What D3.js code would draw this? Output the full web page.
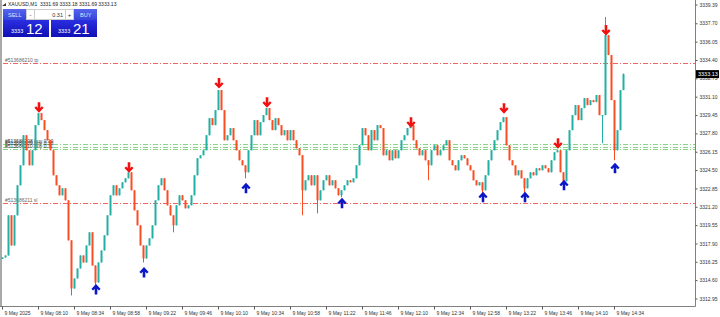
<!DOCTYPE html>
<html>
<head>
<meta charset="utf-8">
<script src="https://cdn.jsdelivr.net/npm/d3@7"></script>
<style>
body { margin: 0; background: #fff; }
svg { display: block; font-family: "Liberation Sans", Arial, sans-serif; }
</style>
</head>
<body>
<div id="chart"></div>
<script>
// XAUUSD closes, one candle per 2 minutes from 07:46
var closes = [
  3316.64, 3316.82, 3320.43, 3317.72, 3320.43, 3323.13, 3324.93, 3327.63, 3326.28, 3324.93,
  3326.28, 3328.54, 3329.62, 3328.99, 3328.09, 3327.18, 3326.28, 3324.03, 3323.13, 3322.23,
  3322.86, 3321.78, 3318.18, 3313.85, 3314.75, 3315.65, 3316.82, 3316.19, 3317.72, 3318.90,
  3315.92, 3314.39, 3316.19, 3317.27, 3318.63, 3320.43, 3322.23, 3323.13, 3322.23, 3322.86,
  3323.40, 3323.76, 3324.30, 3322.68, 3320.88, 3319.53, 3317.72, 3316.55, 3317.72, 3318.36,
  3319.53, 3321.78, 3323.13, 3323.76, 3322.68, 3321.33, 3320.43, 3319.53, 3321.33, 3322.23,
  3321.78, 3321.06, 3321.33, 3322.23, 3324.03, 3325.56, 3325.83, 3326.28, 3327.63, 3329.17,
  3328.54, 3329.89, 3331.69, 3329.89, 3327.18, 3327.63, 3328.27, 3327.18, 3326.28, 3325.38,
  3324.93, 3324.30, 3326.28, 3327.63, 3328.99, 3327.63, 3328.81, 3329.44, 3330.07, 3328.99,
  3328.09, 3329.17, 3328.54, 3327.63, 3328.09, 3327.18, 3328.09, 3327.18, 3326.46, 3325.83,
  3322.68, 3323.58, 3324.03, 3323.13, 3324.03, 3321.78, 3322.68, 3323.58, 3324.03, 3323.13,
  3323.58, 3322.86, 3322.23, 3322.68, 3323.13, 3323.58, 3323.40, 3323.76, 3324.93, 3326.73,
  3328.27, 3327.63, 3326.28, 3328.09, 3327.18, 3328.54, 3328.27, 3325.83, 3326.28, 3325.38,
  3326.28, 3325.56, 3326.28, 3327.18, 3327.63, 3328.27, 3328.54, 3327.18, 3326.46, 3325.83,
  3326.28, 3325.38, 3324.93, 3326.28, 3326.73, 3325.83, 3326.28, 3326.73, 3327.18, 3325.38,
  3324.93, 3324.48, 3325.38, 3325.83, 3325.56, 3324.93, 3324.48, 3323.58, 3323.13, 3323.40,
  3322.68, 3324.03, 3325.38, 3326.28, 3327.18, 3328.09, 3328.81, 3329.26, 3326.73, 3325.38,
  3324.93, 3324.03, 3324.48, 3323.76, 3322.86, 3323.76, 3324.30, 3324.03, 3324.66, 3324.48,
  3324.93, 3324.66, 3324.30, 3325.38, 3326.10, 3326.28, 3324.30, 3323.49, 3326.28, 3328.09,
  3329.44, 3330.34, 3328.99, 3330.07, 3330.97, 3330.34, 3330.79, 3330.61, 3331.24, 3329.44,
  3329.44, 3336.64, 3334.84, 3330.79, 3326.28, 3328.09, 3331.69, 3333.13
];
var firstOpen = 3316.50;

// wick extremes that stick out of the bodies: [candle index, price]
var highWicks = [[201, 3338.27], [207, 3333.18]];
var lowWicks = [[23, 3313.22], [31, 3314.12], [47, 3316.19], [57, 3318.90], [81, 3323.76],
  [100, 3320.43], [105, 3320.61], [113, 3322.05], [142, 3323.58], [160, 3322.41],
  [174, 3322.41], [187, 3323.22], [200, 3326.91], [204, 3325.38]];

// fractal arrows: [candle index, price]
var downArrows = [[12, 3330.16], [42, 3324.75], [72, 3332.32], [88, 3330.61],
  [136, 3328.81], [167, 3330.07], [185, 3326.91], [201, 3337.09]];
var upArrows = [[31, 3313.76], [47, 3315.29], [81, 3322.86], [113, 3321.51],
  [160, 3322.05], [174, 3322.05], [187, 3323.13], [204, 3324.66]];

var priceTicks = [3339.39, 3337.70, 3336.05, 3334.40, 3332.75, 3331.10, 3329.45, 3327.80,
  3326.15, 3324.50, 3322.85, 3321.20, 3319.55, 3317.90, 3316.25, 3314.60, 3312.95];
var timeTicks = ["07:46", "08:10", "08:34", "08:58", "09:22", "09:46", "10:10", "10:34", "10:58",
  "11:22", "11:46", "12:10", "12:34", "12:58", "13:22", "13:46", "14:10", "14:34"];
var timeLabels = ["9 May 2025", "9 May 08:10", "9 May 08:34", "9 May 08:58", "9 May 09:22",
  "9 May 09:46", "9 May 10:10", "9 May 10:34", "9 May 10:58", "9 May 11:22", "9 May 11:46",
  "9 May 12:10", "9 May 12:34", "9 May 12:58", "9 May 13:22", "9 May 13:46", "9 May 14:10",
  "9 May 14:34"];

var tpLine = { price: 3334.12, label: "#513686210 tp" };
var slLine = { price: 3321.51, label: "#513686211 sl" };
var openLines = [
  { price: 3326.80, label: "#513686208 buy 0.10" },
  { price: 3326.58, label: "#513686209 buy 0.10" },
  { price: 3326.37, label: "#513686210 buy 0.11" }
];
var currentPrice = 3333.13;
var header = "XAUUSD,M1  3331.69 3333.18 3331.69 3333.13";
var lots = "0.31";
var bid = ["3333", "12"];
var ask = ["3333", "21"];

var W = 720, H = 317;
var upColor = "#22b0a4", downColor = "#fb4d22";

var svg = d3.select("#chart").append("svg")
    .attr("width", W)
    .attr("height", H);

var parseTime = d3.timeParse("%Y-%m-%d %H:%M");
var t0 = parseTime("2025-05-09 07:46");

var x = d3.scaleTime()
    .domain([t0, parseTime("2025-05-09 14:34")])
    .range([2, 614]);

var y = d3.scaleLinear()
    .domain([3312.95, 3339.39])
    .range([298.5, 4.5]);

var candles = closes.map(function (c, i) {
    var o = i === 0 ? firstOpen : closes[i - 1];
    return { t: d3.timeMinute.offset(t0, 2 * i), o: o, c: c, h: Math.max(o, c), l: Math.min(o, c) };
});
highWicks.forEach(function (w) { candles[w[0]].h = w[1]; });
lowWicks.forEach(function (w) { candles[w[0]].l = w[1]; });

// left strip
svg.append("rect").attr("x", 0).attr("y", 0).attr("width", 2).attr("height", 306).attr("fill", "#a9a9a9");

// order lines
function hline(price, color, label, labelColor) {
    svg.append("line")
        .attr("x1", 3).attr("x2", 695)
        .attr("y1", Math.round(y(price)) + 0.5).attr("y2", Math.round(y(price)) + 0.5)
        .attr("stroke", color)
        .attr("stroke-width", 1)
        .attr("shape-rendering", "crispEdges")
        .attr("stroke-dasharray", "5,2,1,2");
    svg.append("text")
        .attr("x", 5).attr("y", y(price) - 1.5)
        .attr("font-size", 5)
        .attr("fill", labelColor)
        .text(label);
}
hline(tpLine.price, "#f26464", tpLine.label, "#666");
hline(slLine.price, "#f26464", slLine.label, "#666");
openLines.forEach(function (d) { hline(d.price, "#86d686", d.label, "#333"); });

// candles
svg.append("g").selectAll("line")
    .data(candles)
    .enter().append("line")
    .attr("x1", function (d) { return Math.round(x(d.t)) + 0.5; })
    .attr("x2", function (d) { return Math.round(x(d.t)) + 0.5; })
    .attr("y1", function (d) { return y(d.h); })
    .attr("y2", function (d) { return y(d.l); })
    .attr("stroke", function (d) { return d.c >= d.o ? upColor : downColor; })
    .attr("stroke-width", 1);

svg.append("g").selectAll("rect")
    .data(candles)
    .enter().append("rect")
    .attr("x", function (d) { return Math.round(x(d.t)) - 0.5; })
    .attr("y", function (d) { return y(Math.max(d.o, d.c)); })
    .attr("width", 2)
    .attr("height", function (d) { return Math.max(1, y(Math.min(d.o, d.c)) - y(Math.max(d.o, d.c))); })
    .attr("fill", function (d) { return d.c >= d.o ? upColor : downColor; });

// fractal arrows
var arrowPath = "M0,-5.5L4.6,-0.6L2.9,0.9L1.3,-0.8L1.3,5L-1.3,5L-1.3,-0.8L-2.9,0.9L-4.6,-0.6Z";
svg.append("g").selectAll("path")
    .data(upArrows)
    .enter().append("path")
    .attr("d", arrowPath)
    .attr("transform", function (d) { return "translate(" + (x(candles[d[0]].t) + 1) + "," + y(d[1]) + ")"; })
    .attr("fill", "#0b16c6");
svg.append("g").selectAll("path")
    .data(downArrows)
    .enter().append("path")
    .attr("d", arrowPath)
    .attr("transform", function (d) { return "translate(" + (x(candles[d[0]].t) + 1) + "," + y(d[1]) + ") scale(1,-1)"; })
    .attr("fill", "#f21010");

// frame
svg.append("line").attr("x1", 695.5).attr("x2", 695.5).attr("y1", 0).attr("y2", 306.5).attr("stroke", "#808080");
svg.append("line").attr("x1", 0).attr("x2", 695.5).attr("y1", 306.5).attr("y2", 306.5).attr("stroke", "#808080");

// price axis
var yAxis = svg.append("g")
    .attr("transform", "translate(695.5,0)")
    .call(d3.axisRight(y).tickValues(priceTicks).tickFormat(d3.format(".2f")).tickSize(2).tickPadding(2));
yAxis.select(".domain").remove();
yAxis.selectAll("text").attr("font-size", 5).attr("fill", "#333").attr("font-family", "Liberation Sans, Arial, sans-serif");
yAxis.selectAll("line").attr("stroke", "#555");

// time axis
var xAxis = svg.append("g")
    .attr("transform", "translate(0,306.5)")
    .call(d3.axisBottom(x)
        .tickValues(timeTicks.map(function (s) { return parseTime("2025-05-09 " + s); }))
        .tickFormat(function (d, i) { return timeLabels[i]; })
        .tickSize(3).tickPadding(2));
xAxis.select(".domain").remove();
xAxis.selectAll("text")
    .attr("text-anchor", "start")
    .attr("dx", 2)
    .attr("font-size", 5)
    .attr("fill", "#333")
    .attr("font-family", "Liberation Sans, Arial, sans-serif");
xAxis.selectAll("line").attr("stroke", "#555");

// current price tag
svg.append("rect")
    .attr("x", 696).attr("y", y(currentPrice) - 4)
    .attr("width", 23).attr("height", 8)
    .attr("fill", "#000");
svg.append("text")
    .attr("x", 698).attr("y", y(currentPrice) + 2)
    .attr("font-size", 5.5).attr("fill", "#fff")
    .text(currentPrice.toFixed(2));

// header
svg.append("path").attr("d", "M2,6L6,3L6,6Z").attr("fill", "#333");
svg.append("text")
    .attr("x", 8).attr("y", 6)
    .attr("font-size", 5)
    .attr("fill", "#222")
    .attr("xml:space", "preserve")
    .text(header);

// one click trading panel
var defs = svg.append("defs");
var g1 = defs.append("linearGradient").attr("id", "bigblue").attr("x1", 0).attr("y1", 0).attr("x2", 0).attr("y2", 1);
g1.append("stop").attr("offset", "0%").attr("stop-color", "#2a2ee0");
g1.append("stop").attr("offset", "100%").attr("stop-color", "#1010b4");
var g2 = defs.append("linearGradient").attr("id", "btnblue").attr("x1", 0).attr("y1", 0).attr("x2", 0).attr("y2", 1);
g2.append("stop").attr("offset", "0%").attr("stop-color", "#5766ee");
g2.append("stop").attr("offset", "100%").attr("stop-color", "#3444d8");

var panel = svg.append("g");
panel.append("rect").attr("x", 3).attr("y", 9).attr("width", 23).attr("height", 11).attr("fill", "url(#btnblue)");
panel.append("rect").attr("x", 74).attr("y", 9).attr("width", 23).attr("height", 11).attr("fill", "url(#btnblue)");
panel.append("rect").attr("x", 26.5).attr("y", 9.5).attr("width", 8).attr("height", 10).attr("fill", "#fff").attr("stroke", "#ccc");
panel.append("rect").attr("x", 34.5).attr("y", 9.5).attr("width", 31).attr("height", 10).attr("fill", "#fff").attr("stroke", "#ccc");
panel.append("rect").attr("x", 65.5).attr("y", 9.5).attr("width", 8).attr("height", 10).attr("fill", "#fff").attr("stroke", "#ccc");
panel.append("text").attr("x", 8).attr("y", 16.5).attr("font-size", 5.5).attr("fill", "#dfe3ff").text("SELL");
panel.append("text").attr("x", 80).attr("y", 16.5).attr("font-size", 5.5).attr("fill", "#dfe3ff").text("BUY");
panel.append("text").attr("x", 30.5).attr("y", 16.5).attr("font-size", 6).attr("text-anchor", "middle").attr("fill", "#333").text("-");
panel.append("text").attr("x", 69.5).attr("y", 16.5).attr("font-size", 6).attr("text-anchor", "middle").attr("fill", "#333").text("+");
panel.append("text").attr("x", 63).attr("y", 16.5).attr("font-size", 5.5).attr("text-anchor", "end").attr("fill", "#333").text(lots);

panel.append("rect").attr("x", 3).attr("y", 20).attr("width", 46).attr("height", 17).attr("fill", "url(#bigblue)");
panel.append("rect").attr("x", 51).attr("y", 20).attr("width", 46).attr("height", 17).attr("fill", "url(#bigblue)");
panel.append("text").attr("x", 11).attr("y", 33).attr("font-size", 5.5).attr("fill", "#fff").text(bid[0]);
panel.append("text").attr("x", 26).attr("y", 34).attr("font-size", 15).attr("fill", "#fff").text(bid[1]);
panel.append("text").attr("x", 58).attr("y", 33).attr("font-size", 5.5).attr("fill", "#fff").text(ask[0]);
panel.append("text").attr("x", 73).attr("y", 34).attr("font-size", 15).attr("fill", "#fff").text(ask[1]);
</script>
</body>
</html>
